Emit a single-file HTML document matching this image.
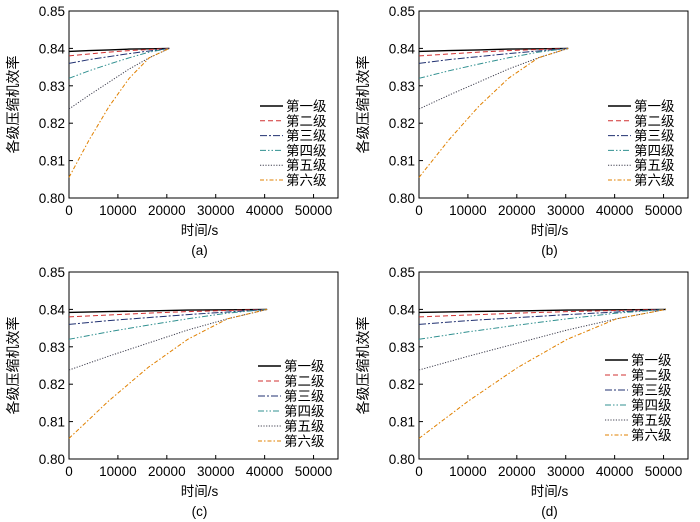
<!DOCTYPE html>
<html><head><meta charset="utf-8">
<style>
body{margin:0;background:#fff;}
svg{display:block;font-family:"Liberation Sans","Noto Sans CJK SC",sans-serif;}
</style></head>
<body>
<svg id="fig" width="700" height="522" viewBox="0 0 700 522"></svg>
<script>
const stageNames = ["第一级","第二级","第三级","第四级","第五级","第六级"];
const fractions = [0, 0.2, 0.4, 0.6, 0.8, 1.0];
const stage1 = [0.8392, 0.8394, 0.8396, 0.8398, 0.8399, 0.840];
const stage2 = [0.8380, 0.8385, 0.8390, 0.8394, 0.8397, 0.840];
const stage3 = [0.8360, 0.8370, 0.8378, 0.8386, 0.8393, 0.840];
const stage4 = [0.8320, 0.8340, 0.8358, 0.8375, 0.8390, 0.840];
const stage5 = [0.8238, 0.8275, 0.8310, 0.8345, 0.8375, 0.840];
const stage6 = [0.8055, 0.8155, 0.8245, 0.8320, 0.8375, 0.840];
const panelLabels = ["(a)","(b)","(c)","(d)"];
const panelEndTimes = [20500, 30500, 40500, 50500];
const xTicks = [0, 10000, 20000, 30000, 40000, 50000];
const yTicks = [0.80, 0.81, 0.82, 0.83, 0.84, 0.85];
const yTickLabels = ["0.80","0.81","0.82","0.83","0.84","0.85"];

const series = [stage1, stage2, stage3, stage4, stage5, stage6];
const styles = [
  {c:"#000", w:1.4, d:""},
  {c:"#d03030", w:1, d:"5,3"},
  {c:"#203070", w:1, d:"7,2,2,2"},
  {c:"#309090", w:1, d:"6,2,1.5,2,1.5,2"},
  {c:"#404050", w:1, d:"1.2,1.5"},
  {c:"#e08000", w:1, d:"4,2,1.5,2"}
];
const panels = [
  {ox:69, oy:11, leg:{x:260,y:106,gap:14.8}},
  {ox:419, oy:11, leg:{x:608,y:106,gap:14.8}},
  {ox:69, oy:272, leg:{x:258,y:366,gap:15}},
  {ox:419, oy:272, leg:{x:605,y:360,gap:15}}
];
const W = 269, H = 187, XMAX = 55000;
const svg = document.getElementById('fig');
const NS = "http://www.w3.org/2000/svg";
function mk(tag, attrs, parent){
  const e = document.createElementNS(NS, tag);
  for (const k in attrs) e.setAttribute(k, attrs[k]);
  (parent||svg).appendChild(e);
  return e;
}
panels.forEach((p, pi) => {
  const g = mk('g', {});
  
  
  const xs = v => p.ox + v / XMAX * W;
  const ys = v => p.oy + H - (v - 0.80) / 0.05 * H;
  const frame = mk('rect', {x:p.ox, y:p.oy, width:W, height:H, fill:"none", stroke:"#000", "stroke-width":1}, g);
  
  
  xTicks.forEach(t => {
    const x = xs(t);
    mk('line', {x1:x, y1:p.oy+H, x2:x, y2:p.oy+H-4, stroke:"#000"}, g);
    const tx = mk('text', {x:x, y:p.oy+H+17, "font-size":13.5, "text-anchor":"middle"}, g);
    tx.textContent = t;
    
    
  });
  yTicks.forEach((t, i) => {
    const y = ys(t);
    mk('line', {x1:p.ox, y1:y, x2:p.ox+4, y2:y, stroke:"#000"}, g);
    const ty = mk('text', {x:p.ox-4, y:y+5, "font-size":13.5, "text-anchor":"end"}, g);
    ty.textContent = yTickLabels[i];
    
    
  });
  const xl = mk('text', {x:p.ox+W/2-4, y:p.oy+H+37, "font-size":13.5, "text-anchor":"middle"}, g);
  xl.textContent = "时间/s";
  
  
  const yx = p.ox - 51, yy = p.oy + H/2;
  const yl = mk('text', {x:yx, y:yy, "font-size":14, "text-anchor":"middle", transform:`rotate(-90 ${yx} ${yy})`}, g);
  yl.textContent = "各级压缩机效率";
  
  
  const pl = mk('text', {x:p.ox+W/2-4, y:p.oy+H+57, "font-size":13.5, "text-anchor":"middle"}, g);
  pl.textContent = panelLabels[pi];
  
  
  series.forEach((vals, si) => {
    const st = styles[si];
    const pts = vals.map((v, k) => xs(fractions[k] * panelEndTimes[pi]).toFixed(1) + "," + ys(v).toFixed(1)).join(" ");
    const line = mk('polyline', {points:pts, fill:"none", stroke:st.c, "stroke-width":st.w, "stroke-dasharray":st.d}, g);
    
    
    const ly = p.leg.y + si * p.leg.gap;
    const ll = mk('line', {x1:p.leg.x, y1:ly, x2:p.leg.x+23, y2:ly, stroke:st.c, "stroke-width":st.w, "stroke-dasharray":st.d}, g);
    
    
    const lt = mk('text', {x:p.leg.x+26, y:ly+5, "font-size":13.5}, g);
    lt.textContent = stageNames[si];
    
    
  });
});
</script>
</body></html>
